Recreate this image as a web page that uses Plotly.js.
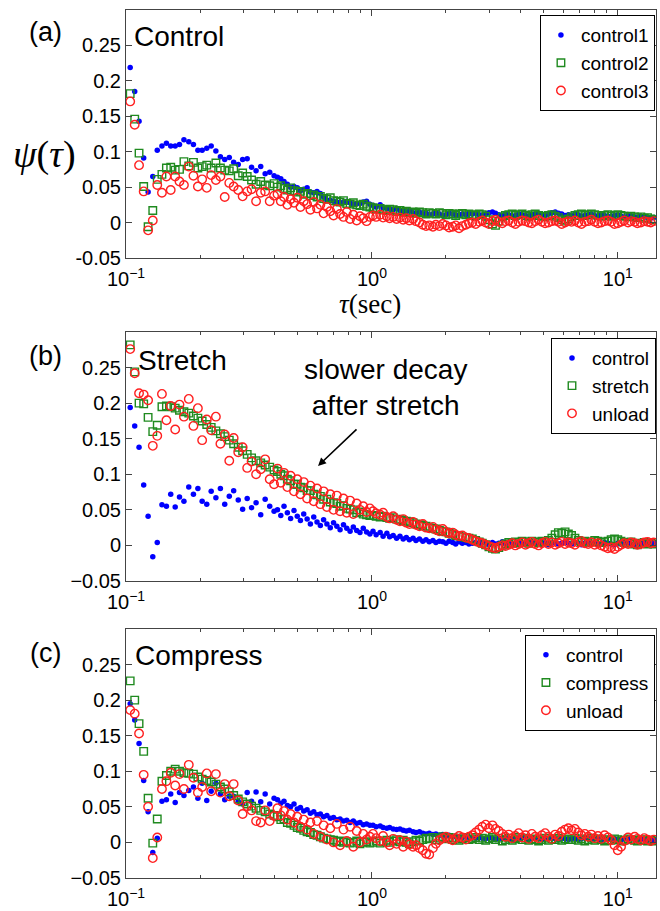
<!DOCTYPE html>
<html>
<head>
<meta charset="utf-8">
<script src="https://cdn.plot.ly/plotly-3.0.1.min.js"></script>
<style>html,body{margin:0;padding:0;background:#fff;}#chart{width:660px;height:911px;}</style>
</head>
<body>
<div id="chart"></div>
<script>
// lag time tau (sec)
const TAU = [
0.104,0.1085,0.113,0.118,0.123,0.1285,0.134,0.140,0.146,0.152,
0.1585,0.165,0.172,0.180,0.188,0.196,0.204,0.213,0.222,0.232,
0.242,0.252,0.263,0.274,0.286,0.298,0.311,0.324,0.338,0.353,
0.368,0.384,0.400,
0.413,0.426,0.439,0.453,0.467,0.482,0.497,0.512,0.528,0.545,
0.562,0.580,0.598,0.617,0.636,0.656,0.677,0.698,0.720,0.742,
0.766,0.790,0.815,0.840,0.867,0.894,0.922,0.951,0.981,
1.01,1.04,1.08,1.11,1.15,1.18,1.22,1.26,1.30,1.34,
1.38,1.42,1.47,1.51,1.56,1.61,1.66,1.71,1.77,1.82,
1.88,1.94,2.00,2.06,2.13,2.19,2.26,2.33,2.41,2.48,
2.56,2.64,2.73,2.81,2.90,2.99,3.09,3.18,3.28,3.39,
3.49,3.60,3.72,3.83,3.95,4.08,4.21,4.34,4.47,4.61,
4.76,4.91,5.06,5.22,5.39,5.56,5.73,5.91,6.10,6.29,
6.48,6.69,6.90,7.11,7.34,7.57,7.80,8.05,8.30,8.56,
8.83,9.11,9.39,9.69,9.99,10.3,10.6,11.0,11.3,11.7,
12.0,12.4,12.8,13.2,13.6,14.0
];

// (a) Control
const A_CONTROL1 = [
.219,.185,.143,.091,.043,.065,.102,.108,.112,.108,.108,.110,.117,.114,.110,.102,.102,.105,.108,.101,.093,.089,.092,.085,.082,.089,.090,.078,.073,.079,.069,.071,.066,
.064,.062,.058,.054,.050,.051,.049,.045,.047,.049,.043,.042,.044,.041,.036,.032,.031,.030,.029,.028,.029,.030,.028,.026,.027,.027,.029,.030,.026,
.024,.022,.025,.021,.020,.019,.018,.020,.017,.016,.015,.017,.014,.013,.015,.012,.013,.011,.012,.014,.012,.010,.011,.013,.012,.011,.010,.012,.011,.013,
.012,.013,.011,.010,.012,.014,.015,.013,.011,.010,.012,.011,.009,.010,.012,.011,.010,.009,.011,.012,.013,.011,.010,.012,.014,.015,.013,.012,.010,.011,
.010,.012,.011,.009,.010,.011,.012,.010,.009,.011,.010,.008,.009,.010,.011,.009,.008,.010,.009,.008,.007,.009,.008,.007,.006,.007
];
const A_CONTROL2 = [
.182,.146,.098,.051,-.006,.017,.061,.068,.077,.078,.074,.075,.086,.080,.085,.077,.079,.081,.077,.084,.077,.074,.073,.076,.066,.070,.065,.060,.054,.058,.053,.052,.055,
.050,.052,.048,.046,.049,.045,.043,.044,.040,.041,.038,.039,.036,.037,.034,.033,.035,.031,.030,.029,.031,.027,.026,.028,.025,.024,.026,.023,.022,
.021,.019,.020,.018,.017,.019,.018,.016,.017,.015,.016,.014,.015,.013,.015,.014,.012,.014,.013,.012,.014,.013,.011,.013,.012,.010,.012,.013,.011,.012,
.011,.010,.012,.011,.009,.004,-.002,-.004,.002,.008,.010,.011,.012,.010,.011,.012,.010,.009,.011,.012,.010,.009,.008,.010,.011,.009,.007,.004,.002,.005,
.008,.010,.011,.012,.010,.011,.012,.011,.010,.009,.010,.011,.009,.010,.011,.010,.009,.008,.009,.008,.007,.008,.006,.007,.005,.004
];
const A_CONTROL3 = [
.171,.138,.081,.044,-.011,.003,.053,.042,.065,.046,.065,.058,.053,.079,.066,.051,.061,.049,.067,.060,.065,.036,.056,.051,.046,.037,.044,.047,.030,.042,.044,.030,.038,
.040,.030,.036,.025,.033,.028,.035,.022,.030,.026,.018,.029,.020,.025,.013,.022,.016,.010,.019,.012,.008,.015,.005,.011,.003,.009,.006,.002,.008,
.010,.008,.011,.007,.009,.006,.008,.005,.007,.004,.006,.003,.005,.002,.000,-.003,-.005,-.004,-.006,-.003,-.005,-.002,-.004,-.007,-.006,-.004,-.008,-.005,-.003,-.001,
.000,-.002,.001,.003,.000,-.002,.002,.004,.001,-.001,.002,.003,.000,-.002,.001,.003,.002,.000,-.001,.002,.004,.001,-.001,.000,.002,.003,.001,-.002,.000,.002,
.001,.003,.000,-.002,.001,.002,.004,.001,-.001,.000,.002,.003,.001,-.002,-.001,.001,.003,.000,.002,.001,-.001,.000,.002,.001,.000,.002
];

// (b) Stretch
const B_CONTROL = [
.194,.168,.138,.085,.041,-.016,.004,.057,.055,.072,.054,.068,.062,.082,.072,.080,.062,.058,.076,.067,.080,.058,.069,.077,.064,.051,.066,.053,.060,.043,.065,.055,.048,
.050,.042,.055,.046,.038,.049,.041,.035,.044,.037,.030,.040,.033,.028,.036,.030,.025,.032,.027,.022,.029,.024,.020,.026,.021,.018,.024,.019,.016,
.020,.015,.018,.013,.017,.012,.014,.010,.013,.009,.011,.008,.010,.007,.009,.006,.008,.005,.007,.004,.006,.005,.003,.006,.004,.002,.005,.003,.004,.002,
.003,.004,.002,.005,.003,.001,.004,.002,.003,.005,.002,.004,.003,.001,.004,.003,.002,.004,.005,.003,.002,.004,.003,.001,.003,.004,.002,.003,.005,.003,
.002,.004,.003,.001,.003,.004,.002,.003,.001,.002,.004,.003,.002,.001,.003,.002,.004,.003,.002,.001,.003,.002,.004,.003,.002,.003
];
const B_STRETCH = [
.282,.244,.200,.199,.180,.160,.169,.195,.196,.195,.193,.190,.188,.186,.182,.179,.175,.170,.166,.161,.157,.153,.148,.143,.138,.133,.128,.123,.119,.116,.113,.110,.106,
.104,.100,.098,.093,.091,.086,.086,.082,.081,.077,.077,.072,.071,.069,.065,.065,.061,.060,.059,.055,.056,.052,.051,.050,.046,.047,.044,.043,.042,
.042,.041,.040,.041,.039,.038,.039,.037,.036,.035,.034,.033,.032,.030,.029,.028,.027,.025,.024,.023,.021,.020,.019,.017,.016,.014,.013,.012,.011,.010,
.009,.007,.005,.003,.001,-.002,-.004,-.005,-.003,.000,.002,.004,.003,.005,.004,.006,.005,.003,.006,.005,.004,.006,.005,.007,.010,.015,.018,.017,.019,.016,
.014,.010,.007,.005,.006,.004,.005,.007,.006,.004,.005,.006,.008,.009,.008,.006,.004,.003,.005,.002,.001,.003,.004,.002,.003,.002
];
const B_UNLOAD = [
.276,.242,.214,.212,.204,.140,.154,.213,.176,.196,.163,.198,.181,.206,.168,.193,.148,.177,.162,.181,.143,.156,.119,.151,.131,.138,.109,.118,.100,.107,.121,.093,.086,
.108,.088,.102,.082,.098,.076,.093,.072,.089,.066,.084,.062,.080,.058,.076,.054,.072,.050,.070,.048,.066,.046,.063,.044,.059,.050,.055,.047,.052,
.048,.045,.043,.046,.040,.038,.041,.036,.034,.037,.032,.030,.033,.029,.027,.030,.025,.024,.026,.022,.020,.023,.019,.017,.018,.015,.013,.014,.011,.010,
.008,.006,.004,.003,.001,-.001,-.003,-.004,-.002,.000,-.001,.001,.003,.000,.002,.004,.001,.003,.005,.002,.000,.003,.005,.002,.004,.001,.003,.005,.002,.004,
.003,.001,.004,.006,.003,.002,.004,.001,.003,.000,-.002,-.004,-.003,-.005,-.002,.001,.003,.002,.004,.003,.001,.002,.004,.005,.003,.004
];

// (c) Compress
const C_CONTROL = [
.195,.172,.139,.087,.043,-.014,.006,.058,.060,.068,.056,.070,.066,.073,.078,.062,.083,.059,.072,.083,.068,.060,.065,.065,.058,.054,.070,.058,.071,.057,.068,.054,.062,
.060,.055,.058,.052,.050,.054,.047,.049,.044,.046,.041,.043,.039,.040,.036,.038,.034,.035,.032,.033,.030,.031,.028,.030,.027,.028,.025,.026,.024,
.024,.022,.023,.021,.020,.021,.019,.018,.019,.017,.016,.017,.015,.014,.015,.013,.012,.013,.011,.012,.010,.011,.009,.010,.008,.009,.008,.007,.008,.007,
.007,.006,.008,.006,.005,.007,.006,.004,.006,.005,.007,.005,.004,.006,.005,.007,.006,.004,.005,.006,.005,.004,.006,.005,.007,.005,.004,.006,.005,.004,
.005,.006,.004,.005,.007,.005,.004,.006,.005,.003,.005,.004,.006,.005,.004,.003,.005,.004,.006,.004,.003,.005,.004,.003,.004,.003
];
const C_COMPRESS = [
.227,.200,.167,.128,.062,-.001,.033,.086,.094,.100,.103,.100,.098,.097,.096,.092,.089,.087,.085,.082,.078,.075,.071,.066,.061,.057,.054,.051,.048,.045,.043,.040,.038,
.036,.032,.033,.028,.027,.024,.021,.020,.017,.015,.014,.011,.010,.008,.006,.005,.004,.003,.001,.002,.000,.001,-.001,.000,.002,-.002,.000,.001,-.001,
.000,.002,-.001,.001,.003,.000,.002,.004,.001,.003,.000,-.002,.001,.003,.002,.004,.006,.005,.007,.004,.006,.008,.005,.007,.004,.006,.003,.005,.007,.004,
.005,.007,.004,.006,.003,.005,.007,.004,.006,.002,.004,.006,.003,.005,.007,.004,.006,.003,.005,.004,.002,.004,.006,.003,.005,.004,.006,.003,.005,.004,
.004,.006,.003,.005,.002,.004,.006,.003,.005,.004,.002,.004,.003,.005,.004,.002,.003,.005,.004,.003,.002,.004,.003,.002,.003,.002
];
const C_UNLOAD = [
.186,.181,.153,.095,.050,-.022,.007,.075,.086,.098,.080,.096,.075,.109,.091,.070,.078,.097,.072,.096,.070,.082,.065,.082,.059,.040,.051,.045,.030,.028,.045,.030,.037,
.048,.038,.044,.032,.040,.028,.036,.022,.032,.018,.028,.012,.030,.008,.024,.004,.020,.000,.026,-.004,.018,.002,.022,-.006,.016,.000,.012,.004,.008,
.012,.006,.002,.009,.000,-.004,.005,-.002,.003,-.006,.001,-.003,-.006,-.004,-.008,-.011,-.016,-.017,-.008,-.002,.003,.006,.008,.005,.003,.006,.009,.007,.004,.008,
.010,.014,.018,.022,.025,.020,.024,.019,.016,.012,.008,.011,.006,.009,.013,.007,.010,.005,.012,.008,.006,.010,.013,.008,.005,.011,.009,.015,.018,.020,
.017,.019,.014,.010,.012,.008,.011,.006,.009,.005,.010,.007,.003,-.004,-.011,-.006,.002,.007,.004,.008,.005,.003,.006,.004,.002,.004
];

const PANELS = [
  {names:['control1','control2','control3'], series:[A_CONTROL1,A_CONTROL2,A_CONTROL3]},
  {names:['control','stretch','unload'],     series:[B_CONTROL,B_STRETCH,B_UNLOAD]},
  {names:['control','compress','unload'],    series:[C_CONTROL,C_COMPRESS,C_UNLOAD]}
];
const Y_TICKS = [-0.05,0,0.05,0.1,0.15,0.2,0.25];
const Y_TICKTEXT_A = ['-0.05','0','0.05','0.1','0.15','0.2','0.25'];
const Y_TICKTEXT_BC = ['\u22120.05','0','0.05','0.1','0.15','0.2','0.25'];
const X_TICKS = [0.1,1,10];
const X_TICKTEXT = ['10<sup>\u22121</sup>','10<sup>0</sup>','10<sup>1</sup>'];
const X_MINOR = [0.2,0.3,0.4,0.5,0.6,0.7,0.8,0.9,2,3,4,5,6,7,8,9];

const SANS = 'Liberation Sans, Arial, Helvetica, sans-serif';
const SERIF = 'Liberation Serif, Times New Roman, serif';
const styles = [
  {mode:'markers', marker:{symbol:'circle', size:5.5, color:'#0000ff'}},
  {mode:'markers', marker:{symbol:'square-open', size:7.5, color:'#1f8a1f', line:{width:1.4}}},
  {mode:'markers', marker:{symbol:'circle-open', size:8.5, color:'#ff2020', line:{width:1.4}}}
];

const traces = [];
PANELS.forEach((p, i) => {
  const sfx = i === 0 ? '' : String(i + 1);
  p.series.forEach((ys, j) => {
    traces.push(Object.assign({
      type:'scatter', x:TAU, y:ys, name:p.names[j],
      xaxis:'x' + sfx, yaxis:'y' + sfx,
      legend: i === 0 ? 'legend' : 'legend' + (i + 1),
      hoverinfo:'skip'
    }, JSON.parse(JSON.stringify(styles[j]))));
  });
});

function xAxis(anchor){
  return {type:'log', range:[-1,1.155], anchor:anchor,
    tickvals:X_TICKS, ticktext:X_TICKTEXT, ticks:'inside', ticklen:6, tickcolor:'#444',
    ticklabelstandoff:3,
    minor:{ticks:'inside', ticklen:3, tickvals:X_MINOR, tickcolor:'#444', showgrid:false},
    showline:true, linecolor:'#444', linewidth:1, mirror:'ticks', showgrid:false, zeroline:false,
    tickfont:{family:SANS, size:20, color:'#000'}};
}
function yAxis(anchor, domain, ttext){
  return {range:[-0.05,0.3], anchor:anchor, domain:domain,
    tickvals:Y_TICKS, ticktext:ttext, ticks:'inside', ticklen:6, tickcolor:'#444',
    showline:true, linecolor:'#444', linewidth:1, mirror:'ticks', showgrid:false, zeroline:false,
    tickfont:{family:SANS, size:20, color:'#000'}};
}
function legendAt(x, y){
  return {x:x, y:y, xanchor:'right', yanchor:'top', xref:'paper', yref:'paper',
    bgcolor:'#fff', bordercolor:'#000', borderwidth:1,
    font:{family:SANS, size:19, color:'#000'}, tracegroupgap:0, itemwidth:30};
}

const ann = [];
function txt(t, x, y, size, family, xanchor){
  ann.push({text:t, x:x, y:y, xref:'paper', yref:'paper', showarrow:false,
    xanchor:xanchor || 'center', yanchor:'middle', font:{family:family, size:size, color:'#000'}});
}
// panel letters
txt('(a)', -0.151, 0.9747, 27, SANS);
txt('(b)', -0.151, 0.6014, 27, SANS);
txt('(c)', -0.151, 0.2592, 27, SANS);
// inner titles
txt('Control', 0.011, 0.9700, 28, SANS, 'left');
txt('Stretch', 0.019, 0.5958, 28, SANS, 'left');
txt('Compress', 0.013, 0.2558, 28, SANS, 'left');
// axis labels
txt('<i>\u03c8</i>(<i>\u03c4</i>)', -0.153, 0.833, 38, SERIF);
txt('<i>\u03c4</i>(sec)', 0.46, 0.6610, 27, SERIF);
// annotation text + arrow
txt('slower decay<br>after stretch', 0.490, 0.5654, 28, SANS);
ann.push({text:'', x:0.3623, y:0.4747, xref:'paper', yref:'paper', showarrow:true,
  ax:40, ay:-38, arrowhead:2, arrowsize:1, arrowwidth:1.6, arrowcolor:'#000'});

const layout = {
  width:660, height:911,
  margin:{l:126, r:4, t:10, b:33},
  paper_bgcolor:'#fff', plot_bgcolor:'#fff',
  showlegend:true,
  xaxis:xAxis('y'), xaxis2:xAxis('y2'), xaxis3:xAxis('y3'),
  yaxis:yAxis('x',[0.7143,1.0],Y_TICKTEXT_A),
  yaxis2:yAxis('x2',[0.3422,0.629],Y_TICKTEXT_BC),
  yaxis3:yAxis('x3',[0,0.2869],Y_TICKTEXT_BC),
  legend:legendAt(0.998,0.994),
  legend2:legendAt(1.0,0.622),
  legend3:legendAt(0.998,0.28),
  annotations:ann
};

Plotly.newPlot('chart', traces, layout, {staticPlot:true, displayModeBar:false});
</script>
</body>
</html>
